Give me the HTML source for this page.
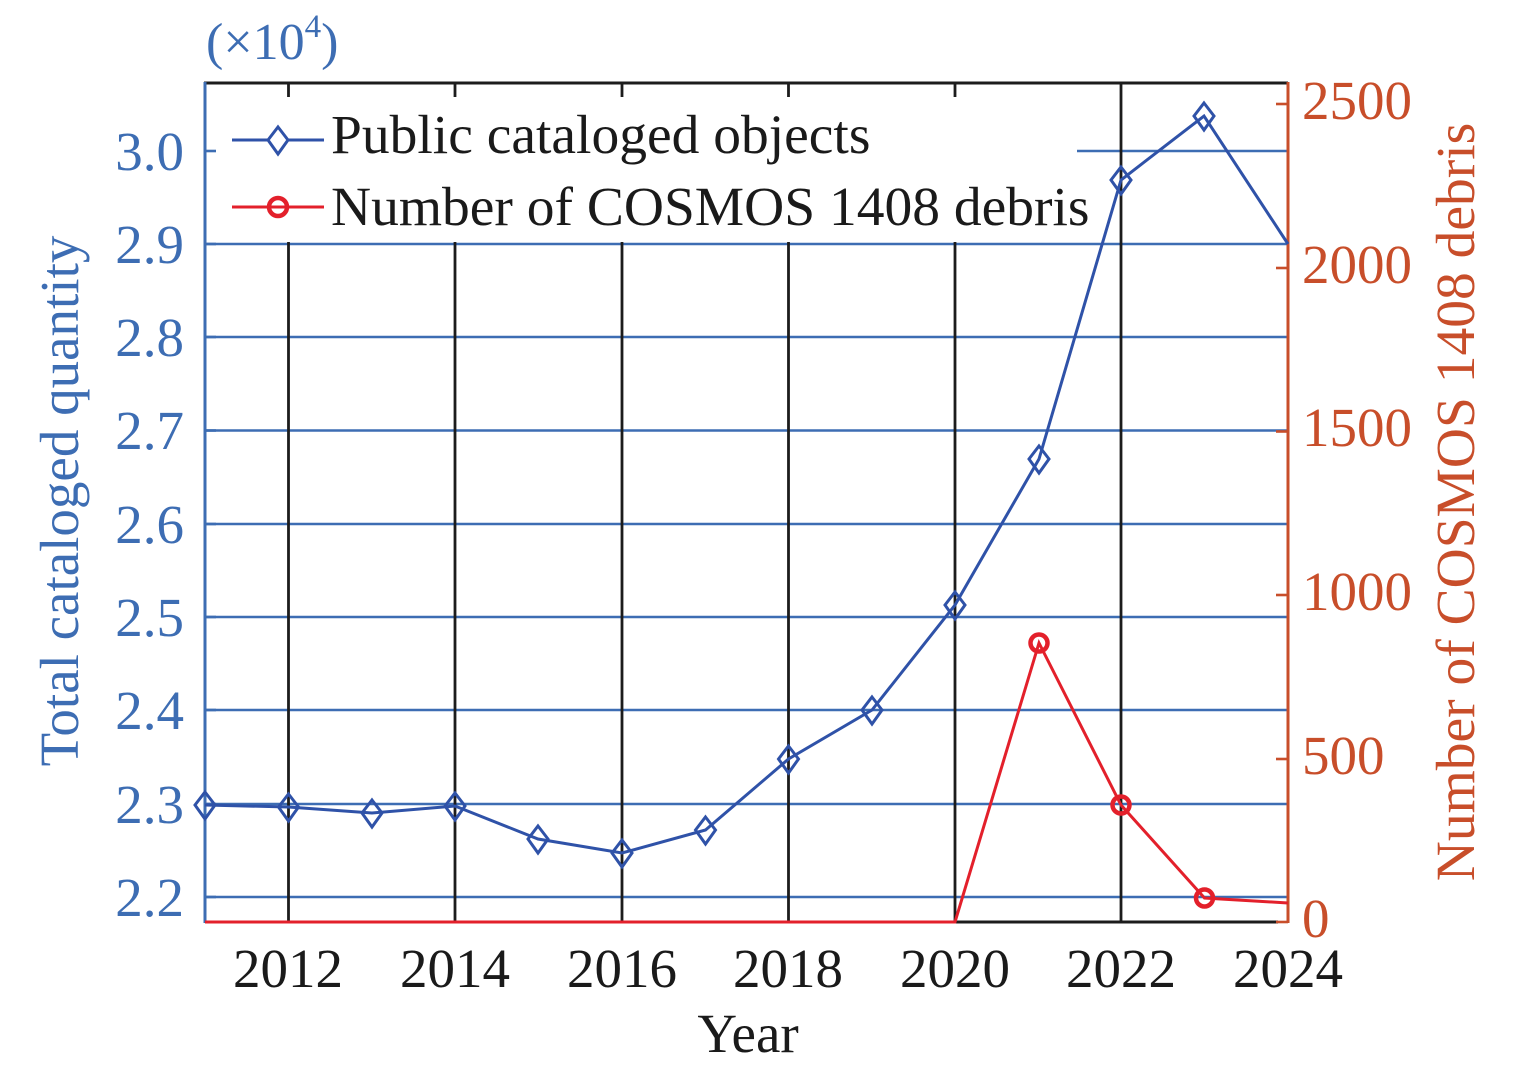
<!DOCTYPE html>
<html>
<head>
<meta charset="utf-8">
<style>
  html,body{margin:0;padding:0;background:#fff;}
  svg{display:block;}
  text{font-family:"Liberation Serif","DejaVu Serif",serif;}
</style>
</head>
<body>
<svg width="1535" height="1071" viewBox="0 0 1535 1071" xmlns="http://www.w3.org/2000/svg">
  <rect x="0" y="0" width="1535" height="1071" fill="#fff"/>

  <!-- horizontal blue gridlines -->
  <g stroke="#3d6db3" stroke-width="2.6" fill="none">
    <line x1="1077" y1="151" x2="1288" y2="151"/>
    <line x1="205" y1="244" x2="1288" y2="244"/>
    <line x1="205" y1="337" x2="1288" y2="337"/>
    <line x1="205" y1="430.5" x2="1288" y2="430.5"/>
    <line x1="205" y1="524" x2="1288" y2="524"/>
    <line x1="205" y1="617" x2="1288" y2="617"/>
    <line x1="205" y1="710" x2="1288" y2="710"/>
    <line x1="205" y1="804" x2="1288" y2="804"/>
    <line x1="205" y1="897" x2="1288" y2="897"/>
  </g>

  <!-- vertical black gridlines -->
  <g stroke="#1c1c1c" stroke-width="2.8" fill="none">
    <line x1="288.5" y1="83" x2="288.5" y2="922"/>
    <line x1="455" y1="83" x2="455" y2="922"/>
    <line x1="622" y1="83" x2="622" y2="922"/>
    <line x1="788.5" y1="83" x2="788.5" y2="922"/>
    <line x1="955" y1="83" x2="955" y2="922"/>
    <line x1="1121" y1="83" x2="1121" y2="922"/>
  </g>

  <!-- axes -->
  <line x1="204" y1="83" x2="1288" y2="83" stroke="#1c1c1c" stroke-width="3"/>
  <line x1="205" y1="922" x2="1278" y2="922" stroke="#1c1c1c" stroke-width="3"/>
  <line x1="205" y1="82" x2="205" y2="923" stroke="#3d6db3" stroke-width="3"/>
  <line x1="1288" y1="82" x2="1288" y2="923" stroke="#c84e2a" stroke-width="3"/>

  <!-- left ticks -->
  <g stroke="#3d6db3" stroke-width="2.6">
    <line x1="205" y1="151" x2="216" y2="151"/>
    <line x1="205" y1="244" x2="216" y2="244"/>
    <line x1="205" y1="337" x2="216" y2="337"/>
    <line x1="205" y1="430.5" x2="216" y2="430.5"/>
    <line x1="205" y1="524" x2="216" y2="524"/>
    <line x1="205" y1="617" x2="216" y2="617"/>
    <line x1="205" y1="710" x2="216" y2="710"/>
    <line x1="205" y1="804" x2="216" y2="804"/>
    <line x1="205" y1="897" x2="216" y2="897"/>
  </g>
  <!-- right ticks -->
  <g stroke="#c84e2a" stroke-width="2.6">
    <line x1="1276" y1="104" x2="1288" y2="104"/>
    <line x1="1276" y1="268" x2="1288" y2="268"/>
    <line x1="1276" y1="431.5" x2="1288" y2="431.5"/>
    <line x1="1276" y1="595" x2="1288" y2="595"/>
    <line x1="1276" y1="759" x2="1288" y2="759"/>
    <line x1="1276" y1="922" x2="1288" y2="922"/>
  </g>

  <!-- legend box -->
  <rect x="218" y="97" width="859" height="145" fill="#fff"/>
  <line x1="232" y1="140" x2="324" y2="140" stroke="#2f52a8" stroke-width="3"/>
  <polygon points="278,127 288,140 278,154 268,140" fill="#fff" stroke="#2f52a8" stroke-width="3"/>
  <line x1="232" y1="207" x2="324" y2="207" stroke="#e3202b" stroke-width="3"/>
  <circle cx="278" cy="207" r="9" fill="none" stroke="#e3202b" stroke-width="4.5"/>
  <text x="331" y="153" font-size="55.5" fill="#1a1a1a">Public cataloged objects</text>
  <text x="331" y="225" font-size="55.5" fill="#1a1a1a">Number of COSMOS 1408 debris</text>

  <!-- red series -->
  <polyline points="205,922 955,922 1039,643 1121,805 1204.5,898 1288,903" fill="none" stroke="#e3202b" stroke-width="3" stroke-linejoin="miter"/>
  <g fill="none" stroke="#e3202b" stroke-width="4.5">
    <circle cx="1039" cy="643" r="8.5"/>
    <circle cx="1121" cy="805" r="8.5"/>
    <circle cx="1204.5" cy="898" r="8.5"/>
  </g>

  <!-- blue series -->
  <polyline points="205,805 288.5,807 372,813 455,806 538,839 622,853 705.5,830 788.5,759 872,710 955,605 1039,459 1121,180 1204,116 1288,244" fill="none" stroke="#2f52a8" stroke-width="3"/>
  <g fill="none" stroke="#2f52a8" stroke-width="3">
    <polygon points="205,792 215,805 205,819 195,805"/>
    <polygon points="288.5,794 298.5,807 288.5,821 278.5,807"/>
    <polygon points="372,800 382,813 372,827 362,813"/>
    <polygon points="455,793 465,806 455,820 445,806"/>
    <polygon points="538,826 548,839 538,853 528,839"/>
    <polygon points="622,840 632,853 622,867 612,853"/>
    <polygon points="705.5,817 715.5,830 705.5,844 695.5,830"/>
    <polygon points="788.5,746 798.5,759 788.5,773 778.5,759"/>
    <polygon points="872,697 882,710 872,724 862,710"/>
    <polygon points="955,592 965,605 955,619 945,605"/>
    <polygon points="1039,446 1049,459 1039,473 1029,459"/>
    <polygon points="1121,167 1131,180 1121,194 1111,180"/>
    <polygon points="1204,103 1214,116 1204,130 1194,116"/>
  </g>

  <!-- left tick labels -->
  <g font-size="55" fill="#3d6db3" text-anchor="end">
    <text x="184" y="170">3.0</text>
    <text x="184" y="263">2.9</text>
    <text x="184" y="356">2.8</text>
    <text x="184" y="449">2.7</text>
    <text x="184" y="543">2.6</text>
    <text x="184" y="636">2.5</text>
    <text x="184" y="729">2.4</text>
    <text x="184" y="823">2.3</text>
    <text x="184" y="916">2.2</text>
  </g>

  <!-- right tick labels -->
  <g font-size="55" fill="#c84e2a" text-anchor="start">
    <text x="1302" y="119">2500</text>
    <text x="1302" y="283">2000</text>
    <text x="1302" y="446">1500</text>
    <text x="1302" y="610">1000</text>
    <text x="1302" y="774">500</text>
    <text x="1302" y="937">0</text>
  </g>

  <!-- x tick labels -->
  <g font-size="55" fill="#1a1a1a" text-anchor="middle">
    <text x="288" y="987">2012</text>
    <text x="455" y="987">2014</text>
    <text x="622" y="987">2016</text>
    <text x="788" y="987">2018</text>
    <text x="955" y="987">2020</text>
    <text x="1121" y="987">2022</text>
    <text x="1288" y="987">2024</text>
  </g>

  <!-- axis titles -->
  <text x="748" y="1052" font-size="55" fill="#1a1a1a" text-anchor="middle">Year</text>
  <text transform="translate(78,501) rotate(-90)" font-size="55" fill="#3d6db3" text-anchor="middle">Total cataloged quantity</text>
  <text transform="translate(1474,502) rotate(-90)" font-size="55.5" fill="#c84e2a" text-anchor="middle">Number of COSMOS 1408 debris</text>

  <!-- exponent label -->
  <text x="206" y="59" font-size="52" fill="#3d6db3">(×10<tspan font-size="33" dy="-22">4</tspan><tspan dy="22">)</tspan></text>
</svg>
</body>
</html>
